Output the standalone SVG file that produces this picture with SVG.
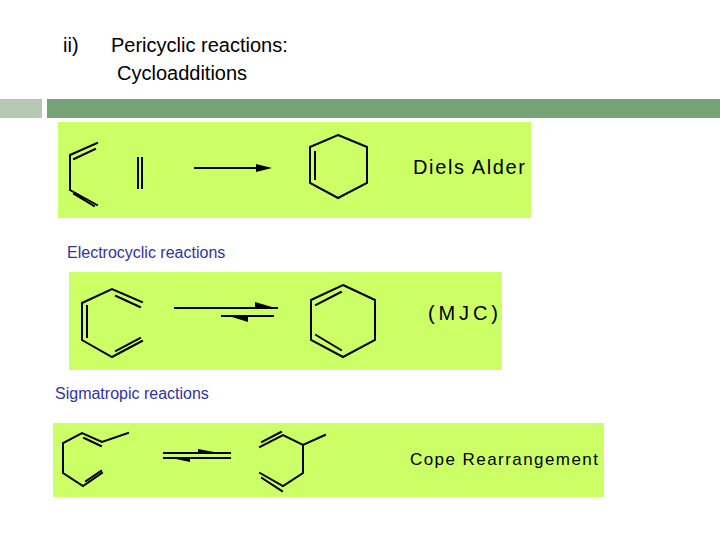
<svg xmlns="http://www.w3.org/2000/svg" width="720" height="540" viewBox="0 0 720 540">
<style>
.p{fill:#ccff66}
.b{stroke:#000;stroke-width:2;fill:none;stroke-linecap:square}
.t{font-family:"Liberation Sans",Arial,sans-serif;fill:#000}
.l{font-family:"Liberation Sans",Arial,sans-serif;fill:#333399;font-size:16px}
</style>
<rect width="720" height="540" fill="#fff"/>
<text class="t" x="63" y="52" font-size="20">ii)</text>
<text class="t" x="111" y="52" font-size="20">Pericyclic reactions:</text>
<text class="t" x="117" y="80" font-size="20">Cycloadditions</text>
<rect x="0" y="99" width="42" height="19" fill="#b5c8b1"/>
<rect x="47" y="99" width="673" height="19" fill="#76a276"/>

<g id="diels-alder">
<rect class="p" x="58" y="122" width="473" height="96"/>
<path class="b" d="M97,143 L70,155 L70,190 L97,205 M95,149 L74,159 M74,194 L94,206"/>
<path class="b" d="M138,158 V188 M142,158 V188"/>
<path class="b" d="M195,168 H268"/>
<polygon points="256,164 272,168 256,172"/>
<path class="b" d="M338,135 L367,147 L367,183 L338,198 L310,183 L310,147 Z M315,152 V179"/>
<text class="t" x="413" y="174" font-size="20" textLength="112">Diels Alder</text>
</g>

<text class="l" x="67" y="258">Electrocyclic reactions</text>
<g id="electrocyclic">
<rect class="p" x="69" y="272" width="433" height="98"/>
<path class="b" d="M142,302 L112,289 L82,303 L82,340 L112,357 L142,341 M116,296 L140,307 M87,306 V337 M116,351 L140,338"/>
<path class="b" d="M175,308 H277 M222,316 H273"/>
<polygon points="255,302 272,307 255,307"/>
<polygon points="248,317 232,317 248,322"/>
<path class="b" d="M343,285 L375,300 L375,340 L343,357 L311,340 L311,300 Z M316,305 L341,292 M316,335 L341,350"/>
<text class="t" x="428" y="320" font-size="20" textLength="70">(MJC)</text>
</g>

<text class="l" x="55" y="399">Sigmatropic reactions</text>
<g id="sigmatropic">
<rect class="p" x="53" y="423" width="551" height="74"/>
<path class="b" d="M128,433 L102,442 L82,433 L63,443 L63,473 L83,486 L102,473 M84,438 L101,446 M86,481 L101,471"/>
<path class="b" d="M164,453 H230 M164,458 H230"/>
<polygon points="198,449 214,452 198,452"/>
<polygon points="190,459 176,459 190,462"/>
<path class="b" d="M260,447 L283,435 L303,445 L325,435 M303,445 V473 L283,486 L260,473 M262,442 L281,432 M262,478 L282,491"/>
<text class="t" x="410" y="465" font-size="17" textLength="188">Cope Rearrangement</text>
</g>
</svg>
